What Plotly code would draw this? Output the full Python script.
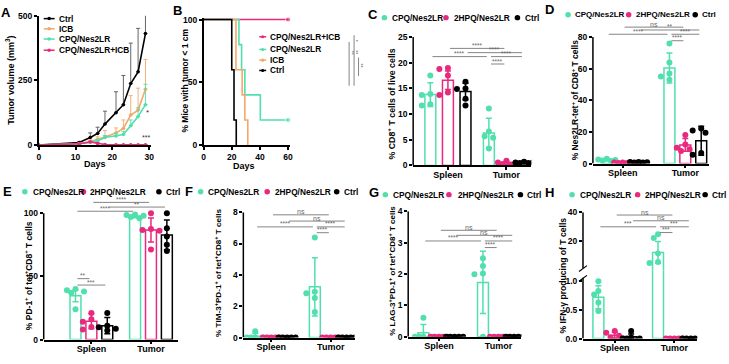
import plotly.graph_objects as go

W, H = 729, 364
FONT = "Liberation Sans"
GREEN = "#52dfae"
PINK = "#e8297d"
BLACK = "#000000"
ORANGE = "#f3a86a"
GRAY = "#666666"

# ---------------- data: panel A (tumor growth) ----------------
days_A = [0, 11, 14, 16, 18, 21, 23, 25, 27, 29]
ctrl_A = [0, 10, 29, 45, 81, 125, 156, 238, 283, 431]
ctrl_A_err = [0, 4, 18, 24, 50, 81, 113, 156, 168, 90]
icb_A = [0, 5, 14, 22, 31, 47, 64, 116, 135, 216]
icb_A_err = [0, 2, 6, 10, 25, 19, 33, 75, 85, 115]
cpq_A = [0, 5, 10, 16, 29, 35, 41, 75, 110, 156]
cpq_A_err = [0, 2, 3, 6, 8, 10, 12, 22, 34, 79]
combo_A = [0, 5, 12, 6, 2, 1, 1, 1, 1, 1]
combo_A_err = [0, 2, 3, 3, 1, 1, 1, 1, 1, 1]

# ---------------- data: panel B (survival) ----------------
ctrl_B_t = [0, 20, 21.6, 23.2]
ctrl_B_s = [100, 60, 20, 0]
icb_B_t = [0, 23, 27.4, 29.3, 31.4]
icb_B_s = [100, 60, 40, 20, 0]
cpq_B_t = [0, 25.1, 27, 29.3, 40.3, 60]
cpq_B_s = [100, 80, 60, 40, 20, 20]
combo_B_t = [0, 60]
combo_B_s = [100, 100]

# ---------------- data: panels C-H ----------------
# order: Spleen CPQ, Spleen 2HPQ, Spleen Ctrl, Tumor CPQ, Tumor 2HPQ, Tumor Ctrl
groups = ["Spleen", "Tumor"]
series_names = ["CPQ/Nes2LR", "2HPQ/Nes2LR", "Ctrl"]

C_mean = [13.8, 16.6, 14.4, 6.3, 0.5, 0.6]
C_sd = [2.3, 1.8, 1.6, 2.9, 0.3, 0.15]
C_pts = [[17.5, 13.9, 13.7, 11.9, 11.7], [19.0, 18.8, 17.5, 14.2, 13.7],
         [16.3, 15.0, 14.9, 13.0, 11.7], [11.1, 6.6, 5.7, 5.4, 3.3],
         [0.9, 0.6, 0.4, 0.3, 0.2], [0.7, 0.6, 0.6, 0.5, 0.5]]
C_sig = ["****", "****", "****", "****", "****"]

D_mean = [2.2, 0.5, 0.8, 60.5, 11.8, 14.4]
D_sd = [0.5, 0.15, 0.15, 9.5, 4.0, 9.2]
D_pts = [[3.0, 2.6, 2.2, 1.9, 1.6], [0.7, 0.6, 0.5, 0.4, 0.3],
         [1.0, 0.9, 0.8, 0.7, 0.6], [76, 64, 57, 55, 53],
         [18, 12, 10, 9, 8], [22.2, 20.9, 19.5, 6.6, 5.5]]
D_sig = ["ns", "**", "****", "****", "****"]

E_mean = [34.6, 14.5, 11.0, 97.5, 86.7, 82.8]
E_sd = [4.6, 6.0, 6.4, 1.2, 9.5, 11.8]
E_pts = [[40, 39, 38, 37, 24], [21, 16, 14, 10, 8],
         [21, 11, 9.7, 8.5, 7.2], [99, 98.5, 98, 97, 96],
         [100, 87.4, 86.7, 86, 71.3], [100, 88, 81.5, 75, 70]]
E_sig = ["****", "**", "****", "**", "***"]

F_mean = [0.08, 0, 0, 3.24, 0, 0]
F_sd = [0.18, 0, 0, 1.86, 0, 0]
F_pts = [[0.4, 0, 0, 0, 0], [0, 0, 0, 0, 0], [0, 0, 0, 0, 0],
         [6.38, 2.93, 2.83, 2.52, 1.63], [0, 0, 0, 0, 0], [0, 0, 0, 0, 0]]
F_sig = ["ns", "ns", "****", "****", "****"]

G_mean = [0.12, 0, 0, 1.73, 0, 0]
G_sd = [0.27, 0, 0, 0.99, 0, 0]
G_pts = [[0.6, 0, 0, 0, 0], [0, 0, 0, 0, 0], [0, 0, 0, 0, 0],
         [2.5, 2.25, 2.01, 1.99, 0], [0, 0, 0, 0, 0], [0, 0, 0, 0, 0]]
G_sig = ["ns", "ns", "****", "****", "****"]

H_mean = [0.72, 0.06, 0.03, 13.6, 0, 0]
H_sd = [0.2, 0.05, 0.05, 7.5, 0, 0]
H_pts = [[1.0, 0.83, 0.77, 0.63, 0.48], [0.13, 0.1, 0.05, 0.02, 0],
         [0.13, 0.02, 0, 0, 0], [24.7, 22, 11.3, 5.3, 4.7],
         [0, 0, 0, 0, 0], [0, 0, 0, 0, 0]]
H_sig = ["ns", "ns", "***", "***", "***"]

# ---------------- helpers ----------------
def PX(x):
    return x / W


def PY(y):
    return 1 - y / H


def bfont(size, color="black", weight="bold"):
    return dict(family=FONT, size=size, color=color, weight=weight)


fig = go.Figure()
layout = dict(width=W, height=H, margin=dict(l=0, r=0, t=0, b=0),
              paper_bgcolor="white", plot_bgcolor="rgba(0,0,0,0)",
              showlegend=False, barmode="overlay",
              font=dict(family=FONT, color="black"))
shapes = []
annos = []


def axis(dom_px, rng, tickvals, ticktext=None, horizontal=True, anchor=None,
         size=8.5, showline=True, standoff=0):
    if horizontal:
        dom = [PX(dom_px[0]), PX(dom_px[1])]
    else:
        dom = [PY(dom_px[0]), PY(dom_px[1])]
    d = dict(domain=dom, range=list(rng), tickvals=tickvals, tickmode="array",
             showline=showline, linecolor="black", linewidth=1.5,
             ticks="outside", ticklen=3, tickwidth=1.5, tickcolor="black",
             showgrid=False, zeroline=False, tickfont=bfont(size),
             anchor=anchor, fixedrange=True, ticklabelstandoff=standoff)
    if ticktext is not None:
        d["ticktext"] = ticktext
    return d


def text(x, y, s, size=8, color="black", weight="bold", xanchor="left",
         yanchor="middle", angle=0):
    annos.append(dict(x=PX(x), y=PY(y), xref="paper", yref="paper", text=s,
                      showarrow=False, xanchor=xanchor, yanchor=yanchor,
                      textangle=angle, font=bfont(size, color, weight)))


def pline(x0, y0, x1, y1, color="black", width=1.5):
    shapes.append(dict(type="line", xref="paper", yref="paper", x0=PX(x0),
                       y0=PY(y0), x1=PX(x1), y1=PY(y1),
                       line=dict(color=color, width=width)))


def pdot(cx, cy, r, color):
    shapes.append(dict(type="circle", xref="paper", yref="paper",
                       x0=PX(cx - r), x1=PX(cx + r), y0=PY(cy + r), y1=PY(cy - r),
                       fillcolor=color, line=dict(width=0)))


# ---------------- panel A ----------------
layout["xaxis"] = axis((37, 150), (0, 30.5), [0, 10, 20, 30], anchor="y", size=8.5)
layout["yaxis"] = axis((144, 11), (0, 500), [0, 250, 500], horizontal=False,
                       anchor="x", size=8.5)
for ys, err, col, ecol in [(ctrl_A, ctrl_A_err, BLACK, "#555555"),
                           (icb_A, icb_A_err, ORANGE, ORANGE),
                           (cpq_A, cpq_A_err, GREEN, GREEN),
                           (combo_A, combo_A_err, PINK, PINK)]:
    fig.add_trace(go.Scatter(
        x=days_A, y=ys, mode="lines+markers", xaxis="x", yaxis="y",
        line=dict(color=col, width=1.6), marker=dict(size=3.5, color=col),
        error_y=dict(type="data", symmetric=False, array=err,
                     arrayminus=[0] * len(err), color=ecol, thickness=0.9,
                     width=2)))
text(94, 163, "Days", 9, xanchor="center")
text(8, 77, "Tumor volume (mm<sup>3</sup>)", 9, xanchor="center", angle=-90)
text(147, 111, "*", 8, "#333333", "normal", xanchor="center")
text(145, 136, "***", 7, "#333333", "normal", xanchor="center")
for name, col, y in [("Ctrl", BLACK, 14), ("ICB", ORANGE, 24.5),
                     ("CPQ/Nes2LR", GREEN, 35), ("CPQ/Nes2LR+ICB", PINK, 46.5)]:
    pline(42, y, 53, y, col, 1.5)
    pdot(47.5, y, 1.8, col)
    text(55, y, name, 8.3)
text(4, 8, "A", 13, xanchor="center")

# ---------------- panel B ----------------
layout["xaxis2"] = axis((203, 290), (0, 61.4), [0, 20, 40, 60], anchor="y2", size=8.5)
layout["yaxis2"] = axis((144, 13), (0, 101.5), [0, 50, 100], horizontal=False,
                        anchor="x2", size=8.5)
for t, s, col in [(combo_B_t, combo_B_s, PINK), (cpq_B_t, cpq_B_s, GREEN),
                  (icb_B_t, icb_B_s, ORANGE), (ctrl_B_t, ctrl_B_s, BLACK)]:
    sizes = [0] * (len(t) - 1) + [5 if s[-1] > 0 else 0]
    fig.add_trace(go.Scatter(
        x=t, y=s, mode="lines+markers", line_shape="hv", xaxis="x2", yaxis="y2",
        line=dict(color=col, width=1.6), marker=dict(size=sizes, color=col),
        cliponaxis=False))
text(244, 166, "Days", 9, xanchor="center")
text(184, 78, "% Mice with tumor &lt; 1 cm", 8.5, xanchor="center", angle=-90)
for name, col, y in [("CPQ/Nes2LR+ICB", PINK, 32.7), ("CPQ/Nes2LR", GREEN, 45.7),
                     ("ICB", ORANGE, 56.7), ("Ctrl", BLACK, 67.3)]:
    pline(259, y, 266, y, col, 1.5)
    pdot(262.5, y, 1.6, col)
    text(267.5, y, name, 8.3)
pline(349.5, 38, 349.5, 83, GRAY, 0.8)
pline(354.5, 31, 354.5, 83, GRAY, 0.8)
pline(359, 54, 359, 73, GRAY, 0.8)
text(352.3, 49, "**", 5, GRAY, "normal", xanchor="center", angle=90)
text(356.8, 37, "*", 5, GRAY, "normal", xanchor="center", angle=90)
text(356.8, 49, "**", 5, GRAY, "normal", xanchor="center", angle=90)
text(361.3, 62, "**", 5, GRAY, "normal", xanchor="center", angle=90)
text(177, 6, "B", 13, xanchor="center")

# ---------------- bar panels ----------------
COLS = [GREEN, PINK, BLACK]
PAIRS = [(1, 4), (2, 5), (0, 3), (3, 5), (3, 4)]
PAIRS_E = [(1, 4), (2, 5), (0, 3), (0, 1), (0, 2)]


def swarm(vals, ppu, s):
    placed, offs = [], []
    cands = [0, -4.3, 4.3, -8.6, 8.6]
    for v in vals:
        y = v * ppu
        best, bestd = 0, -1
        for xo in cands:
            d = min([((xo - a) ** 2 + (y - b) ** 2) ** 0.5 for a, b in placed] + [99])
            if d >= 5.5:
                best = xo
                break
            if d > bestd + 0.5:
                best, bestd = xo, d
        placed.append((best, y))
        offs.append(best / s)
    return offs


def bar_panel(nx, xpx, c, s, G, segments, means, sds, pts, sig, pairs, brk_y,
              brk_axis):
    pos = [(k // 3) * G + (k % 3 - 1) for k in range(6)]
    xa = "x%d" % nx
    x0, x1 = (xpx[0] - c) / s, (xpx[1] - c) / s
    layout["xaxis%d" % nx] = axis(xpx, (x0, x1), [0, G], groups,
                                  anchor="y%d" % segments[0]["n"], size=9,
                                  standoff=-3)
    bw = 11.0 / s
    for seg in segments:
        ya = "y%d" % seg["n"]
        yr = seg["yr"]
        layout["yaxis%d" % seg["n"]] = axis(seg["ypx"], yr, seg["ticks"],
                                            seg.get("ticktext"), horizontal=False,
                                            anchor=xa, size=8.5, showline=False)
        shapes.append(dict(type="line", xref=xa + " domain", x0=0, x1=0,
                           yref=ya, y0=seg["line"][0], y1=seg["line"][1],
                           line=dict(color="black", width=1.5)))
        ppu = (seg["ypx"][0] - seg["ypx"][1]) / (yr[1] - yr[0])
        vmin = seg.get("vmin", None)
        for j, col in enumerate(COLS):
            idx = [k for k in (j, j + 3) if vmin is None or means[k] > vmin]
            if idx:
                fig.add_trace(go.Bar(
                    x=[pos[k] for k in idx], y=[means[k] for k in idx],
                    base=[yr[0] - 1] * len(idx) if vmin is not None else None,
                    width=bw, xaxis=xa, yaxis=ya,
                    marker=dict(color="rgba(255,255,255,0)",
                                line=dict(color=col, width=1.5)),
                    error_y=dict(type="data", array=[sds[k] for k in idx],
                                 color=col, thickness=1.5, width=3)))
            px_, py_ = [], []
            for k in (j, j + 3):
                vals = [v for v in pts[k]
                        if (vmin is None and v <= yr[1]) or (vmin is not None and v > vmin)]
                if not vals:
                    continue
                offs = swarm(vals, ppu, s)
                px_ += [pos[k] + o for o in offs]
                py_ += vals
            if px_:
                fig.add_trace(go.Scatter(x=px_, y=py_, mode="markers", xaxis=xa,
                                         yaxis=ya, marker=dict(size=6, color=col)))
    # significance brackets
    for (i, k), yv, lab in zip(pairs, brk_y, sig):
        shapes.append(dict(type="line", xref=xa, yref="y%d" % brk_axis,
                           x0=pos[i] + 0.12, x1=pos[k] - 0.12, y0=yv, y1=yv,
                           line=dict(color=GRAY, width=0.8)))
        annos.append(dict(x=(pos[i] + pos[k]) / 2, y=yv, xref=xa,
                          yref="y%d" % brk_axis, text=lab, showarrow=False,
                          xanchor="center", yanchor="bottom", yshift=-2.5,
                          font=bfont(7 if lab == "ns" else 6.5, GRAY, "normal")))


def legend_row(y, items, size=8.3):
    for (cx, tx), col, name in zip(items, COLS, series_names):
        pdot(cx, y, 2.8, col)
        text(tx, y, name, size)


# C
bar_panel(3, (414, 533), 449, 17.7, 3.33,
          [dict(n=3, ypx=(165, 33), yr=(0, 25), ticks=[0, 5, 10, 15, 20, 25],
                line=(0, 25))],
          C_mean, C_sd, C_pts, C_sig, PAIRS, [22.8, 21.97, 21.2, 21.2, 19.76], 3)
text(392, 102, "% CD8<sup>+</sup> T cells of live cells", 8.8, xanchor="center", angle=-90)
legend_row(13, [(385, 391), (447, 453), (519, 525)])
text(374, 10, "C", 13, xanchor="center")

# D
bar_panel(4, (595, 712), 625, 16, 3.94,
          [dict(n=4, ypx=(163, 15), yr=(0, 91.08), ticks=[0, 20, 40, 60, 80],
                line=(0, 80))],
          D_mean, D_sd, D_pts, D_sig, PAIRS, [86.3, 84.5, 81.8, 81.8, 77.7], 4)
text(577, 98, "% Nes2LR-tet<sup>+</sup> of CD8<sup>+</sup> T cells", 8.5,
     xanchor="center", angle=-90)
legend_row(10, [(570, 575), (631, 636), (698, 703)], size=8.0)
text(551, 5, "D", 13, xanchor="center")

# E
bar_panel(5, (42, 177), 90, 16, 3.75,
          [dict(n=5, ypx=(344, 197), yr=(0, 113.1), ticks=[0, 50, 100],
                line=(0, 100))],
          E_mean, E_sd, E_pts, E_sig, PAIRS_E, [108.5, 104.8, 101.5, 48.2, 43.1], 5)
text(27, 278, "% PD-1<sup>+</sup> of tet<sup>+</sup>CD8<sup>+</sup> T cells", 8.5,
     xanchor="center", angle=-90)
legend_row(192, [(23, 29), (82, 87), (158, 163)])
text(6, 192, "E", 13, xanchor="center")

# F
bar_panel(6, (243, 355), 271, 16, 3.75,
          [dict(n=6, ypx=(342, 213), yr=(0, 8), ticks=[0, 2, 4, 6, 8], line=(0, 8))],
          F_mean, F_sd, F_pts, F_sig, PAIRS, [7.83, 7.43, 7.06, 7.06, 6.69], 6)
text(218, 276, "% TIM-3<sup>+</sup>PD-1<sup>+</sup> of tet<sup>+</sup>CD8<sup>+</sup> T cells",
     8.1, xanchor="center", angle=-90)
legend_row(192, [(200, 205), (267, 273), (337, 342)])
text(188, 192, "F", 13, xanchor="center")

# G
bar_panel(7, (409, 523), 440, 15.7, 3.82,
          [dict(n=7, ypx=(341, 212), yr=(0, 4), ticks=[0, 1, 2, 3, 4], line=(0, 4))],
          G_mean, G_sd, G_pts, G_sig, PAIRS, [3.39, 3.23, 3.05, 3.05, 2.84], 7)
text(392, 273, "% LAG-3<sup>+</sup>PD-1<sup>+</sup> of tet<sup>+</sup>CD8<sup>+</sup> T cells",
     8.0, xanchor="center", angle=-90)
legend_row(195, [(386, 392), (450, 457), (522, 527)])
text(375, 193, "G", 13, xanchor="center")

# H (broken axis)
H_low_top = 70.0 / 59.0
bar_panel(8, (585, 700), 617, 16.5, 3.64,
          [dict(n=8, ypx=(343, 273), yr=(0, H_low_top), ticks=[0, 0.5, 1.0],
                ticktext=["0.0", "0.5", "1.0"], line=(0, 1.06)),
           dict(n=9, ypx=(273, 213), yr=(-0.6, 40), ticks=[20, 40],
                line=(1.0, 40), vmin=H_low_top)],
          H_mean, H_sd, H_pts, H_sig, PAIRS, [38, 34, 29.8, 29.8, 25.8], 9)
pline(581, 284, 589, 278, "black", 1.2)
pline(581, 274, 589, 268, "black", 1.2)
text(565, 278, "% IFN-γ producing of T cells", 8.6, xanchor="center", angle=-90)
legend_row(195, [(574, 580), (640, 645), (708, 713)])
text(551, 193, "H", 13, xanchor="center")

layout["shapes"] = shapes
layout["annotations"] = annos
fig.update_layout(**layout)
fig.write_html("out.html", config={"responsive": False, "displayModeBar": False},
               post_script="document.body.style.margin='0';document.body.style.padding='0';")
